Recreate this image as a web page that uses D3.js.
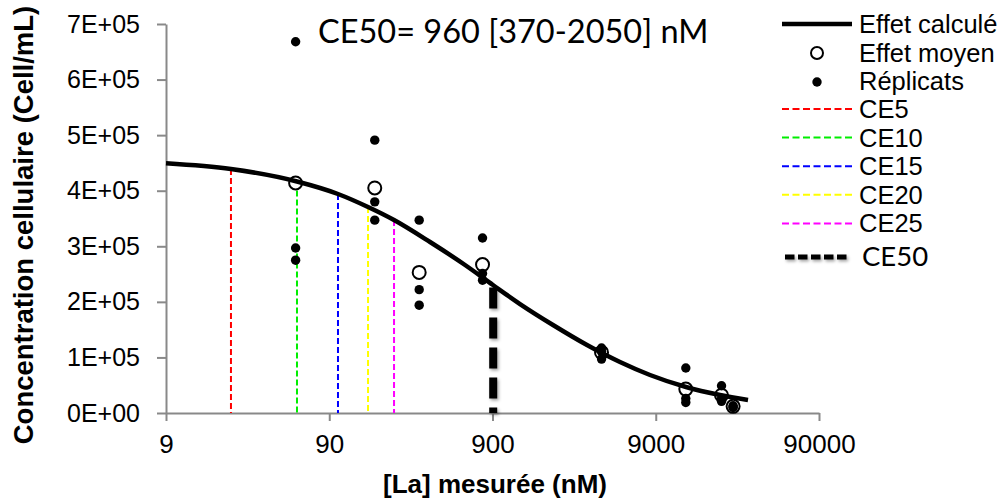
<!DOCTYPE html>
<html>
<head>
<meta charset="utf-8">
<script src="https://cdn.jsdelivr.net/npm/d3@7"></script>
<style>
  body { margin: 0; background: #fff; }
  svg { font-family: Arial, "Liberation Sans", sans-serif; }
  .axis .domain, .axis line { stroke: #898989; stroke-width: 2; }
  .axis text { fill: #000; }
</style>
</head>
<body>
<div id="chart"></div>
<script>
// data
var xTicks = [9, 90, 900, 9000, 90000];
var yTicks = [0, 100000, 200000, 300000, 400000, 500000, 600000, 700000];

// fitted curve
var curveX = [9, 22.5, 57.1, 101.8, 155.5, 224.4, 373, 611, 906, 1327, 2113, 3413, 5435, 8300, 13790, 22280, 33070];
var curveY = [449400, 439100, 416600, 394100, 370700, 347300, 307700, 266300, 230300, 196100, 158400, 122400, 91800, 68400, 46800, 32400, 23400];

// measured concentrations, mean effect and replicates
var doseX = [56, 171, 320, 782, 4190, 13750, 22760, 26800];
var meanY = [414000, 405000, 253000, 267000, 109000, 43000, 32000, 12000];
var rep1 = [668000, 491000, 347000, 315000, 117000, 81000, 49000, 13000];
var rep2 = [297000, 380000, 222000, 251000, 110000, 26000, 26000, 11000];
var rep3 = [275000, 347000, 194000, 239000, 97000, 19000, 21000, 10000];

// effect concentrations
var ceNames = ['CE5', 'CE10', 'CE15', 'CE20', 'CE25'];
var ceX = [22.5, 57.1, 101.8, 155.5, 224.4];
var ceTop = [439100, 416600, 394100, 370700, 347300];
var ceColors = ['#ff0000', '#00ee00', '#0000ff', '#ffff00', '#ff00ff'];
var ce50X = 909;
var ce50Top = 226000;

var title = 'CE50= 960 [370-2050] nM';

var width = 1006, height = 500;

var svg = d3.select('#chart').append('svg')
  .attr('width', width)
  .attr('height', height);

var defs = svg.append('defs');
defs.append('filter')
  .attr('id', 'shadow')
  .attr('filterUnits', 'userSpaceOnUse')
  .attr('x', 0).attr('y', 0).attr('width', width).attr('height', height)
  .append('feDropShadow')
  .attr('dx', 1.5).attr('dy', 2)
  .attr('stdDeviation', 1.5)
  .attr('flood-color', '#000')
  .attr('flood-opacity', 0.35);

var x = d3.scaleLog().domain([9, 90000]).range([166, 819]);
var y = d3.scaleLinear().domain([0, 700000]).range([413, 24]);

// axes
var xAxis = d3.axisBottom(x)
  .tickValues(xTicks)
  .tickFormat(d3.format('d'))
  .tickSize(8)
  .tickSizeOuter(0)
  .tickPadding(14);

var yAxis = d3.axisLeft(y)
  .tickValues(yTicks)
  .tickFormat(function (d) { return d === 0 ? '0E+00' : (d / 100000) + 'E+05'; })
  .tickSize(9)
  .tickSizeOuter(0)
  .tickPadding(17);

svg.append('g')
  .attr('class', 'axis x')
  .attr('transform', 'translate(0,' + y(0) + ')')
  .call(xAxis)
  .selectAll('text')
  .attr('font-size', 26)
  .attr('font-family', 'Arial, "Liberation Sans", sans-serif');

svg.append('g')
  .attr('class', 'axis y')
  .attr('transform', 'translate(' + x(9) + ',0)')
  .call(yAxis)
  .selectAll('text')
  .attr('font-size', 25)
  .attr('font-family', 'Arial, "Liberation Sans", sans-serif');

// CE vertical lines
ceX.forEach(function (v, i) {
  svg.append('line')
    .attr('x1', x(v)).attr('x2', x(v))
    .attr('y1', y(ceTop[i])).attr('y2', y(0))
    .attr('stroke', ceColors[i])
    .attr('stroke-width', 2)
    .attr('stroke-dasharray', '6,3');
});

svg.append('line')
  .attr('x1', x(ce50X)).attr('x2', x(ce50X))
  .attr('y1', y(ce50Top)).attr('y2', y(0))
  .attr('stroke', '#000')
  .attr('stroke-width', 8)
  .attr('stroke-dasharray', '21,9')
  .attr('filter', 'url(#shadow)');

// mean effect
svg.append('g').selectAll('circle')
  .data(doseX)
  .enter().append('circle')
  .attr('cx', function (d) { return x(d); })
  .attr('cy', function (d, i) { return y(meanY[i]); })
  .attr('r', 6.5)
  .attr('fill', '#fff')
  .attr('stroke', '#000')
  .attr('stroke-width', 2);

// fitted curve
var line = d3.line()
  .curve(d3.curveMonotoneX)
  .x(function (d) { return x(d[0]); })
  .y(function (d) { return y(d[1]); });

svg.append('path')
  .datum(d3.zip(curveX, curveY))
  .attr('fill', 'none')
  .attr('stroke', '#000')
  .attr('stroke-width', 4.5)
  .attr('d', line);

// replicates
[rep1, rep2, rep3].forEach(function (rep) {
  svg.append('g').selectAll('circle')
    .data(rep)
    .enter().append('circle')
    .attr('cx', function (d, i) { return x(doseX[i]); })
    .attr('cy', function (d) { return y(d); })
    .attr('r', 4.7)
    .attr('fill', '#000');
});

// title
svg.append('text')
  .attr('x', 318).attr('y', 43)
  .attr('font-family', 'Lato, "Open Sans", sans-serif')
  .attr('font-size', 32.5)
  .text(title);

// axis titles
svg.append('text')
  .attr('x', 495).attr('y', 493)
  .attr('text-anchor', 'middle')
  .attr('font-weight', 'bold')
  .attr('font-size', 26)
  .text('[La] mesurée (nM)');

svg.append('text')
  .attr('transform', 'translate(33,225) rotate(-90)')
  .attr('text-anchor', 'middle')
  .attr('font-weight', 'bold')
  .attr('font-size', 27.5)
  .text('Concentration cellulaire (Cell/mL)');

// legend
var legend = svg.append('g');
var lx0 = 782, lx1 = 852, tx = 859;

legend.append('line')
  .attr('x1', lx0).attr('x2', lx1).attr('y1', 24).attr('y2', 24)
  .attr('stroke', '#000').attr('stroke-width', 4.5);
legend.append('text').attr('x', tx).attr('y', 33).attr('font-size', 25.5).text('Effet calculé');

legend.append('circle')
  .attr('cx', 817).attr('cy', 53).attr('r', 6)
  .attr('fill', '#fff').attr('stroke', '#000').attr('stroke-width', 2);
legend.append('text').attr('x', tx).attr('y', 62).attr('font-size', 25.5).text('Effet moyen');

legend.append('circle')
  .attr('cx', 817).attr('cy', 82).attr('r', 4.7)
  .attr('fill', '#000');
legend.append('text').attr('x', tx).attr('y', 90).attr('font-size', 25.5).text('Réplicats');

ceNames.forEach(function (name, i) {
  var ly = 109 + i * 28.6;
  legend.append('line')
    .attr('x1', lx0).attr('x2', lx1).attr('y1', ly).attr('y2', ly)
    .attr('stroke', ceColors[i])
    .attr('stroke-width', 2)
    .attr('stroke-dasharray', '7,3.5');
  legend.append('text').attr('x', tx).attr('y', ly + 9).attr('font-size', 25.5).text(name);
});

legend.append('line')
  .attr('x1', 785).attr('x2', 848).attr('y1', 257).attr('y2', 257)
  .attr('stroke', '#000')
  .attr('stroke-width', 5)
  .attr('stroke-dasharray', '9.5,3.5')
  .attr('filter', 'url(#shadow)');
legend.append('text')
  .attr('x', 862).attr('y', 266)
  .attr('font-family', 'Lato, "Open Sans", sans-serif')
  .attr('font-size', 27.5)
  .text('CE50');
</script>
</body>
</html>
